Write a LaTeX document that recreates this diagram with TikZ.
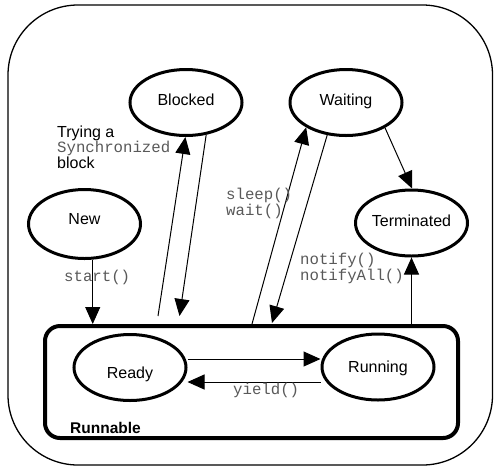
\documentclass[tikz,border=0pt]{standalone}
\usepackage{fontspec}
\setmainfont{Liberation Sans}
\setmonofont{Liberation Mono}
\usetikzlibrary{shapes.geometric,arrows.meta}
\begin{document}
\begin{tikzpicture}[x=1pt,y=-1pt,
  state/.style={ellipse,draw,line width=3pt,minimum width=112pt,minimum height=66pt,inner sep=0pt,font=\fontsize{16}{19}\selectfont},
  arr/.style={line width=1pt,-{Triangle[length=17pt,width=15pt]}},
  code/.style={font=\fontsize{15.7}{16}\selectfont\ttfamily,text=black!65,inner sep=0pt,anchor=base west},
  plain/.style={font=\fontsize{16}{16}\selectfont,inner sep=0pt,anchor=base west},
]
\useasboundingbox (0,0) rectangle (494,467);
% outer frame
\draw[line width=1.3pt,rounded corners=70pt] (8,5) rectangle (492.5,465);
% Runnable box
\node[draw,line width=4pt,rounded corners=15pt,minimum width=413pt,minimum height=112pt,inner sep=0pt] (runnable) at (251.5,382) {};
\node[plain,font=\fontsize{15.5}{16}\selectfont\bfseries] (runlabel) at (70,433) {Runnable};
% states
\node[state,text height=11.6pt,text depth=5pt] (Blocked) at (186,102.5) {Blocked};
\node[state,text height=11.6pt,text depth=5pt] (Waiting) at (346,102.5) {Waiting};
\node[state,minimum height=69pt,text height=11.6pt,text depth=10pt] (New) at (84.5,224) {New};
\node[state,text height=11.6pt,text depth=4pt] (Terminated) at (411.5,223) {Terminated};
\node[state,text height=21pt,text depth=0pt] (Ready) at (130,367.5) {Ready};
\node[state,text height=11.6pt,text depth=0pt] (Running) at (378,367) {Running};
% free ends
\coordinate (b1) at (158,316);
\coordinate (b2) at (179.5,316);
\coordinate (w1) at (252,324);
\coordinate (w2) at (272,323);
% arrows
\draw[arr] (New.-77) -- (New.-77 |- runnable.north);
\draw[arr] (b1) -- (Blocked.-91);
\draw[arr] (Blocked.-58) -- (b2);
\draw[arr] (w1) -- (Waiting.-148);
\draw[arr] (Waiting.-120) -- (w2);
\draw[arr] (Waiting.-33) -- (Terminated.89);
\draw[arr] (Terminated.south |- runnable.north) -- (Terminated.south);
\draw[arr] ([yshift=8.5pt]Ready.east) -- ([yshift=8.5pt]Ready.east -| Running.west);
\draw[arr] ([yshift=-15pt]Running.west) -- ([yshift=-15pt]Running.west -| Ready.east);
% labels
\node[plain] (try1) at (57,137) {Trying a};
\node[code] (try2) at (57,152) {Synchronized};
\node[plain] (try3) at (57,168) {block};
\node[code] (sleepl) at (226,199) {sleep()};
\node[code] (waitl) at (226,215) {wait()};
\node[code] (notifyl) at (300,264) {notify()};
\node[code] (notifyall) at (300,280) {notifyAll()};
\node[code] (startl) at (64,281) {start()};
\node[code] (yieldl) at (233,394) {yield()};
\end{tikzpicture}
\end{document}
